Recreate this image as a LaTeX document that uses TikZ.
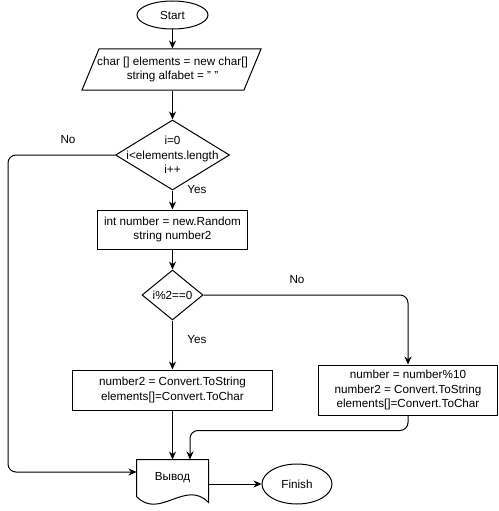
\documentclass[tikz,border=0pt]{standalone}
\usepackage{fontspec}
\setmainfont{Liberation Sans}
\usetikzlibrary{shapes.geometric,arrows.meta}

\begin{document}
\begin{tikzpicture}[x=1pt,y=-1pt,line width=1pt,
  every node/.style={font=\fontsize{11.7}{14.5}\selectfont, align=center},
  box/.style={draw, minimum height=40pt, inner sep=0pt},
  term/.style={draw, ellipse, inner sep=0pt},
  cond/.style={draw, diamond, inner sep=0pt},
  arrow/.style={-{Stealth[length=8pt,width=7pt]}}]
  \useasboundingbox (0,0) rectangle (498,511);

  % Start and data
  \node[term, minimum width=71pt, minimum height=28pt] (start) at (172.5,15) {Start};
  \draw (82,90) -- (99,49) -- (261,49) -- (244,90) -- cycle;
  \node[minimum width=150pt, minimum height=41pt, inner sep=0pt] (init) at (172.5,69.5)
    {char [] elements = new char[]\\string alfabet = \symbol{34} \symbol{34}};

  % Loop
  \node[cond, minimum width=114pt, minimum height=70pt] (loop) at (172.5,155) {};
  \node (looptxt) at (loop) {i=0\\i<elements.length\\i++};
  \node[box, minimum width=150pt, minimum height=39pt] (rnd) at (172.5,229.5)
    {int number = new.Random\\string number2};

  % Branch
  \node[cond, minimum width=61pt, minimum height=50pt] (even) at (172.5,295) {};
  \node (eventxt) at (even) {i\%2==0};
  \node[box, minimum width=200pt] (yesbox) at (172.5,390)
    {number2 = Convert.ToString\\elements[]=Convert.ToChar};
  \node[box, minimum width=179pt, minimum height=50pt] (nobox) at (408,390)
    {number = number\%10\\number2 = Convert.ToString\\elements[]=Convert.ToChar};

  % Output and finish
  \node[minimum width=71pt, minimum height=36pt, inner sep=0pt] (out) at (172.5,478) {Вывод};
  \draw (out.south west) -- (out.north west) -- (out.north east) -- ([yshift=-6pt]out.south east)
    .. controls +(-23,-24) and +(23,24) .. (out.south west);
  \node[term, minimum width=70pt, minimum height=40pt] (finish) at (297,484) {Finish};

  % Connectors
  \draw[arrow] (start) -- (init);
  \draw[arrow] (init) -- (loop);
  \draw[arrow] (loop) -- (rnd);
  \draw[arrow] (rnd) -- (even);
  \draw[arrow] (even) -- (yesbox);
  \draw[arrow, rounded corners=8pt] (even) -| (nobox);
  \draw[arrow] (yesbox) -- (out);
  \draw[arrow, rounded corners=8pt] (nobox.south) -- ++(0,15) -| ([xshift=17.5pt]out.north);
  \coordinate (back) at (8,155);
  \draw[arrow, rounded corners=8pt] (loop.west) -- (back) |- ([yshift=6pt]out.west);
  \draw[arrow] ([yshift=-6pt]out.east) -- (finish);

  % Labels
  \node (no1) at (68,140) {No};
  \node (yes1) at (197,190) {Yes};
  \node (no2) at (297,280) {No};
  \node (yes2) at (197,340) {Yes};
\end{tikzpicture}
\end{document}
